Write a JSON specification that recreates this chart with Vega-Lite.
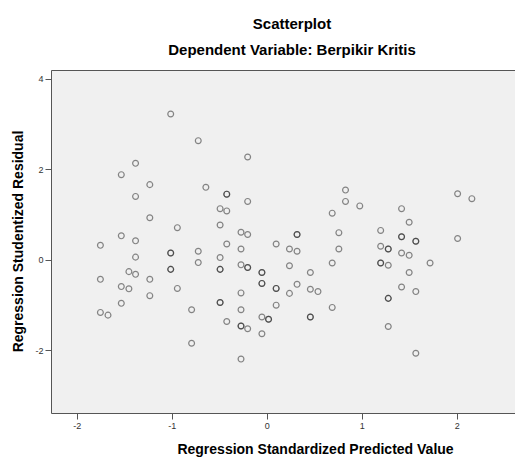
{
  "$schema": "https://vega.github.io/schema/vega-lite/v6.json",
  "width": 464,
  "height": 343,
  "autosize": {"type": "none"},
  "padding": {"left": 51, "top": 70, "right": 0, "bottom": 44},
  "background": "#ffffff",
  "title": {
    "text": "Scatterplot",
    "subtitle": "Dependent Variable: Berpikir Kritis",
    "anchor": "middle",
    "dx": 9,
    "offset": 12,
    "font": "Liberation Sans",
    "fontSize": 15,
    "fontWeight": "bold",
    "color": "#000000",
    "subtitleFont": "Liberation Sans",
    "subtitleFontSize": 15,
    "subtitleFontWeight": "bold",
    "subtitleColor": "#000000",
    "subtitlePadding": 11
  },
  "data": {
    "values": [
      {"x": -1.75, "y": 0.32}, {"x": -1.75, "y": -0.43}, {"x": -1.75, "y": -1.16}, {"x": -1.67, "y": -1.22},
      {"x": -1.53, "y": 1.88}, {"x": -1.53, "y": 0.53}, {"x": -1.53, "y": -0.59}, {"x": -1.53, "y": -0.96},
      {"x": -1.45, "y": -0.26}, {"x": -1.45, "y": -0.64},
      {"x": -1.38, "y": 2.13}, {"x": -1.38, "y": 1.40}, {"x": -1.38, "y": 0.42}, {"x": -1.38, "y": 0.06}, {"x": -1.38, "y": -0.32},
      {"x": -1.23, "y": 1.66}, {"x": -1.23, "y": 0.93}, {"x": -1.23, "y": -0.43}, {"x": -1.23, "y": -0.79},
      {"x": -1.01, "y": 3.22}, {"x": -1.01, "y": 0.15}, {"x": -1.01, "y": 0.15}, {"x": -1.01, "y": -0.21}, {"x": -1.01, "y": -0.21},
      {"x": -0.94, "y": 0.71}, {"x": -0.94, "y": -0.63},
      {"x": -0.79, "y": -1.10}, {"x": -0.79, "y": -1.84},
      {"x": -0.72, "y": 2.63}, {"x": -0.72, "y": 0.19}, {"x": -0.72, "y": -0.06},
      {"x": -0.64, "y": 1.60},
      {"x": -0.49, "y": 1.13}, {"x": -0.49, "y": 0.77}, {"x": -0.49, "y": 0.05}, {"x": -0.49, "y": -0.21}, {"x": -0.49, "y": -0.21}, {"x": -0.49, "y": -0.94}, {"x": -0.49, "y": -0.94},
      {"x": -0.42, "y": 1.45}, {"x": -0.42, "y": 1.45}, {"x": -0.42, "y": 1.08}, {"x": -0.42, "y": 0.35}, {"x": -0.42, "y": -1.36},
      {"x": -0.27, "y": 0.61}, {"x": -0.27, "y": 0.24}, {"x": -0.27, "y": -0.11}, {"x": -0.27, "y": -0.73}, {"x": -0.27, "y": -1.10}, {"x": -0.27, "y": -1.46}, {"x": -0.27, "y": -1.46}, {"x": -0.27, "y": -2.19},
      {"x": -0.20, "y": 2.27}, {"x": -0.20, "y": 1.29}, {"x": -0.20, "y": 0.56}, {"x": -0.20, "y": -0.17}, {"x": -0.20, "y": -0.17}, {"x": -0.20, "y": -1.52},
      {"x": -0.05, "y": -0.28}, {"x": -0.05, "y": -0.28}, {"x": -0.05, "y": -0.52}, {"x": -0.05, "y": -0.52}, {"x": -0.05, "y": -1.26}, {"x": -0.05, "y": -1.63},
      {"x": 0.02, "y": -1.31}, {"x": 0.02, "y": -1.31},
      {"x": 0.10, "y": 0.35}, {"x": 0.10, "y": -0.63}, {"x": 0.10, "y": -0.63}, {"x": 0.10, "y": -1.00},
      {"x": 0.24, "y": 0.24}, {"x": 0.24, "y": -0.13}, {"x": 0.24, "y": -0.74},
      {"x": 0.32, "y": 0.56}, {"x": 0.32, "y": 0.56}, {"x": 0.32, "y": 0.19}, {"x": 0.32, "y": -0.54},
      {"x": 0.46, "y": -0.28}, {"x": 0.46, "y": -0.65}, {"x": 0.46, "y": -1.26}, {"x": 0.46, "y": -1.26},
      {"x": 0.54, "y": -0.70},
      {"x": 0.69, "y": 1.03}, {"x": 0.69, "y": -0.07}, {"x": 0.69, "y": -1.05},
      {"x": 0.76, "y": 0.60}, {"x": 0.76, "y": 0.24},
      {"x": 0.83, "y": 1.54}, {"x": 0.83, "y": 1.29},
      {"x": 0.98, "y": 1.19},
      {"x": 1.20, "y": 0.65}, {"x": 1.20, "y": 0.30}, {"x": 1.20, "y": -0.07}, {"x": 1.20, "y": -0.07},
      {"x": 1.28, "y": 0.24}, {"x": 1.28, "y": 0.24}, {"x": 1.28, "y": -0.12}, {"x": 1.28, "y": -0.85}, {"x": 1.28, "y": -0.85}, {"x": 1.28, "y": -1.47},
      {"x": 1.42, "y": 1.13}, {"x": 1.42, "y": 0.51}, {"x": 1.42, "y": 0.51}, {"x": 1.42, "y": 0.15}, {"x": 1.42, "y": -0.60},
      {"x": 1.50, "y": 0.83}, {"x": 1.50, "y": 0.10}, {"x": 1.50, "y": -0.28},
      {"x": 1.57, "y": 0.41}, {"x": 1.57, "y": 0.41}, {"x": 1.57, "y": -0.70}, {"x": 1.57, "y": -2.06},
      {"x": 1.72, "y": -0.07},
      {"x": 2.01, "y": 1.46}, {"x": 2.01, "y": 0.47},
      {"x": 2.16, "y": 1.35}
    ]
  },
  "layer": [
    {
      "mark": {"type": "point", "shape": "circle", "filled": false, "size": 34, "stroke": "#1a1a1a", "strokeWidth": 1.2, "strokeOpacity": 0.72},
      "encoding": {
        "x": {
          "field": "x", "type": "quantitative",
          "scale": {"domain": [-2.27, 2.614], "nice": false, "zero": false},
          "axis": {
            "title": "Regression Standardized Predicted Value",
            "values": [-2, -1, 0, 1, 2],
            "labelExpr": "datum.value < 0 ? '-' + abs(datum.value) : '' + datum.value",
            "grid": false,
            "domainColor": "#555555",
            "tickColor": "#555555",
            "tickSize": 6,
            "labelPadding": 2,
            "labelFont": "Liberation Sans",
            "labelFontSize": 9,
            "labelColor": "#333333",
            "titleFont": "Liberation Sans",
            "titleFontSize": 14,
            "titleFontWeight": "bold",
            "titleColor": "#000000",
            "titleX": 264,
            "titleY": 36,
            "titleBaseline": "middle",
            "titleAlign": "center"
          }
        },
        "y": {
          "field": "y", "type": "quantitative",
          "scale": {"domain": [-3.38, 4.19], "nice": false, "zero": false},
          "axis": {
            "title": "Regression Studentized Residual",
            "values": [-2, 0, 2, 4],
            "labelExpr": "datum.value < 0 ? '-' + abs(datum.value) : '' + datum.value",
            "grid": false,
            "domainColor": "#555555",
            "tickColor": "#555555",
            "tickSize": 6,
            "labelPadding": 2,
            "labelFont": "Liberation Sans",
            "labelFontSize": 9,
            "labelColor": "#333333",
            "titleFont": "Liberation Sans",
            "titleFontSize": 14,
            "titleFontWeight": "bold",
            "titleColor": "#000000",
            "titleX": -33,
            "titleY": 171,
            "titleBaseline": "middle",
            "titleAlign": "center",
            "titleAngle": -90
          }
        }
      }
    },
    {
      "mark": {"type": "point", "opacity": 0},
      "encoding": {
        "x": {
          "field": "x", "type": "quantitative",
          "scale": {"domain": [-2.27, 2.614], "nice": false, "zero": false},
          "axis": {"orient": "top", "title": null, "labels": false, "ticks": false, "grid": false, "domain": true, "domainColor": "#555555"}
        },
        "y": {"field": "y", "type": "quantitative"}
      }
    }
  ],
  "resolve": {"axis": {"x": "independent"}},
  "config": {
    "view": {"fill": "#f0f0f0", "stroke": null}
  }
}
